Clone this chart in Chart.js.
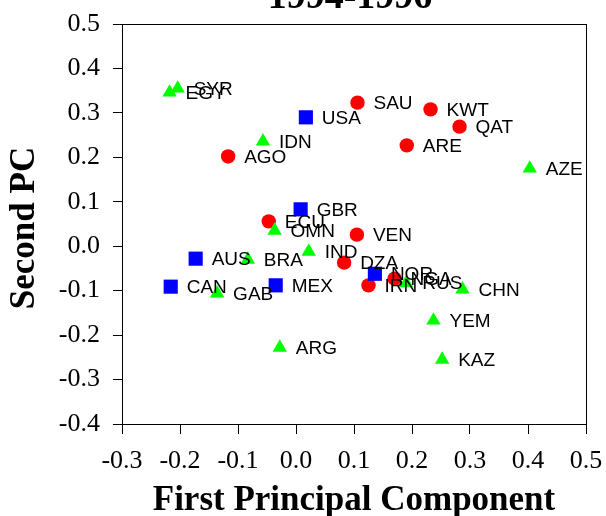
<!DOCTYPE html>
<html>
<head>
<meta charset="utf-8">
<script src="https://cdn.jsdelivr.net/npm/chart.js@4/dist/chart.umd.min.js"></script>
<style>
  body { margin: 0; background: #fff; }
  #wrap { width: 606px; height: 516px; }
</style>
</head>
<body>
<div id="wrap"><canvas id="chart"></canvas></div>
<script>
const TITLE = '1994-1996';
const X_TITLE = 'First Principal Component';
const Y_TITLE = 'Second PC';

// red circles
const RED_NAMES = ['AGO', 'SAU', 'KWT', 'QAT', 'ARE', 'VEN', 'DZA', 'IRN', 'ECU', 'NGA'];
const RED_X = [-0.117, 0.106, 0.232, 0.282, 0.191, 0.105, 0.083, 0.125, -0.047, 0.170];
const RED_Y = [0.202, 0.323, 0.308, 0.269, 0.227, 0.026, -0.037, -0.088, 0.056, -0.073];

// blue squares
const BLUE_NAMES = ['USA', 'GBR', 'AUS', 'CAN', 'MEX', 'NOR'];
const BLUE_X = [0.017, 0.008, -0.173, -0.216, -0.035, 0.136];
const BLUE_Y = [0.290, 0.083, -0.028, -0.091, -0.088, -0.062];

// green triangles
const GREEN_NAMES = ['EGY', 'SYR', 'IDN', 'OMN', 'IND', 'BRA', 'GAB', 'ARG', 'RUS', 'CHN', 'YEM', 'KAZ', 'AZE'];
const GREEN_X = [-0.218, -0.204, -0.057, -0.037, 0.022, -0.083, -0.136, -0.028, 0.190, 0.287, 0.237, 0.252, 0.403];
const GREEN_Y = [0.346, 0.355, 0.236, 0.035, -0.012, -0.030, -0.106, -0.228, -0.083, -0.097, -0.167, -0.255, 0.175];

function toPoints(xs, ys){
    return xs.map((x, i) => ({x: x, y: ys[i]}));
}

const labelPlugin = {
    id: 'pointLabels',
    afterDatasetsDraw(chart){
        const ctx = chart.ctx;
        ctx.save();
        ctx.font = '19px "Liberation Sans", Arial, sans-serif';
        ctx.fillStyle = '#000';
        ctx.textAlign = 'left';
        ctx.textBaseline = 'middle';
        chart.data.datasets.forEach((ds, di) => {
            const meta = chart.getDatasetMeta(di);
            meta.data.forEach((pt, i) => {
                ctx.fillText(ds.names[i], pt.x + 16, pt.y + 1);
            });
        });
        ctx.restore();
    }
};

const framePlugin = {
    id: 'frame',
    afterDraw(chart){
        const ctx = chart.ctx;
        const a = chart.chartArea;
        ctx.save();
        ctx.strokeStyle = '#000';
        ctx.lineWidth = 1;
        ctx.strokeRect(a.left + 0.5, a.top + 0.5, a.right - a.left, a.bottom - a.top);

        ctx.fillStyle = '#000';
        ctx.textAlign = 'center';
        ctx.textBaseline = 'alphabetic';
        ctx.font = 'bold 38px "Liberation Serif", "Times New Roman", serif';
        ctx.fillText(TITLE, (a.left + a.right) / 2 - 4, 8);

        ctx.translate(25, 228);
        ctx.rotate(-Math.PI / 2);
        ctx.textBaseline = 'middle';
        ctx.font = 'bold 35px "Liberation Serif", "Times New Roman", serif';
        ctx.fillText(Y_TITLE, 0, 0);
        ctx.restore();
    }
};

const tickFont = {family: '"Liberation Serif", "Times New Roman", serif', size: 26};

new Chart(document.getElementById('chart'), {
    type: 'scatter',
    data: {
        datasets: [
            {
                names: GREEN_NAMES,
                data: toPoints(GREEN_X, GREEN_Y),
                pointStyle: 'triangle',
                pointRadius: 8.3,
                backgroundColor: '#00ff00',
                borderColor: '#00ff00',
                borderWidth: 0
            },
            {
                names: BLUE_NAMES,
                data: toPoints(BLUE_X, BLUE_Y),
                pointStyle: 'rect',
                pointRadius: 10,
                backgroundColor: '#0000ff',
                borderColor: '#0000ff',
                borderWidth: 0
            },
            {
                names: RED_NAMES,
                data: toPoints(RED_X, RED_Y),
                pointStyle: 'circle',
                pointRadius: 7.2,
                backgroundColor: '#ff0000',
                borderColor: '#ff0000',
                borderWidth: 0
            }
        ]
    },
    options: {
        responsive: true,
        maintainAspectRatio: false,
        animation: false,
        layout: {padding: {top: 24, right: 20, left: 0, bottom: 0}},
        plugins: {
            legend: {display: false},
            tooltip: {enabled: false}
        },
        scales: {
            x: {
                type: 'linear',
                min: -0.3,
                max: 0.5,
                afterFit: s => { s.height = 92; s.paddingLeft = 0; s.paddingRight = 0; },
                ticks: {
                    stepSize: 0.1,
                    color: '#000',
                    font: tickFont,
                    padding: 12,
                    maxRotation: 0,
                    callback: v => v.toFixed(1)
                },
                grid: {drawOnChartArea: false, color: '#000', tickLength: 10, tickColor: '#000'},
                border: {color: '#000', width: 1},
                title: {
                    display: true,
                    text: X_TITLE,
                    color: '#000',
                    font: {family: '"Liberation Serif", "Times New Roman", serif', size: 35, weight: 'bold'},
                    padding: {top: 0, bottom: -6}
                }
            },
            y: {
                type: 'linear',
                min: -0.4,
                max: 0.5,
                afterFit: s => { s.width = 122; s.paddingTop = 0; s.paddingBottom = 0; },
                ticks: {
                    stepSize: 0.1,
                    color: '#000',
                    font: tickFont,
                    padding: 13,
                    callback: v => v.toFixed(1)
                },
                grid: {drawOnChartArea: false, color: '#000', tickLength: 9, tickColor: '#000'},
                border: {color: '#000', width: 1}
            }
        }
    },
    plugins: [labelPlugin, framePlugin]
});
</script>
</body>
</html>
